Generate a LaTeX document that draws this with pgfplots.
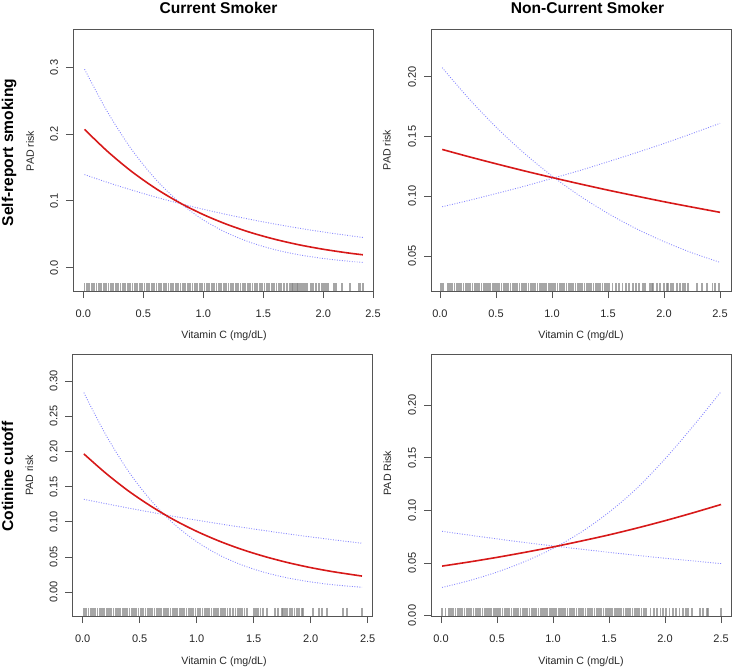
\documentclass[border=0pt]{standalone}
\usepackage{fontspec}
\setmainfont{Liberation Sans}
\usepackage{pgfplots}
\usepackage{pgfplotstable}
\pgfplotsset{compat=1.18}
\definecolor{rred}{RGB}{215,25,25}
\definecolor{rblue}{RGB}{135,135,255}
\definecolor{rframe}{RGB}{85,85,85}

% Panel curves: x, fitted risk, CI bound A, CI bound B
\pgfplotstableread{
x fit ca cb
0.01 0.2072 0.2974 0.1394
0.2 0.1744 0.2338 0.1277
0.4 0.1444 0.1777 0.1164
0.6 0.1189 0.1329 0.1058
0.8 0.0974 0.0979 0.0962
1.0 0.0794 0.0714 0.0874
1.2 0.0645 0.0517 0.0793
1.4 0.0522 0.0372 0.0719
1.6 0.0422 0.0266 0.0651
1.8 0.0340 0.0190 0.0589
2.0 0.0274 0.0136 0.0533
2.2 0.0220 0.0096 0.0482
2.33 0.0191 0.0077 0.0451
}\curvesA
\pgfplotstableread{
x fit ca cb
0.02 0.1392 0.2077 0.0912
0.25 0.1333 0.1826 0.0963
0.5 0.1272 0.1580 0.1022
0.75 0.1213 0.1362 0.1083
1.0 0.1157 0.1170 0.1149
1.25 0.1103 0.1002 0.1216
1.5 0.1051 0.0856 0.1289
1.75 0.1002 0.0729 0.1364
2.0 0.0954 0.0620 0.1442
2.25 0.0909 0.0526 0.1525
2.5 0.0865 0.0446 0.1611
}\curvesB
\pgfplotstableread{
x fit ca cb
0.01 0.1965 0.2834 0.1320
0.2 0.1694 0.2243 0.1259
0.4 0.1440 0.1721 0.1196
0.6 0.1221 0.1301 0.1136
0.8 0.1029 0.0971 0.1078
1.0 0.0865 0.0718 0.1024
1.2 0.0725 0.0527 0.0972
1.4 0.0606 0.0385 0.0922
1.6 0.0506 0.0280 0.0875
1.8 0.0421 0.0203 0.0829
2.0 0.0350 0.0147 0.0786
2.2 0.0291 0.0106 0.0745
2.45 0.0230 0.0071 0.0696
}\curvesC
\pgfplotstableread{
x fit ca cb
0.01 0.0470 0.0267 0.0801
0.25 0.0509 0.0331 0.0765
0.5 0.0553 0.0413 0.0729
0.75 0.0601 0.0514 0.0694
1.0 0.0652 0.0638 0.0662
1.25 0.0708 0.0792 0.0631
1.5 0.0767 0.0982 0.0601
1.75 0.0832 0.1212 0.0572
2.0 0.0902 0.1490 0.0545
2.25 0.0977 0.1800 0.0519
2.5 0.1056 0.2130 0.0494
}\curvesD

% Rug (observed vitamin C values)
\pgfplotstableread[row sep=\\]{x\\ 0.01\\ 0.03\\ 0.05\\ 0.07\\ 0.09\\ 0.11\\ 0.13\\ 0.15\\ 0.17\\ 0.19\\ 0.21\\ 0.23\\ 0.25\\ 0.27\\ 0.29\\ 0.31\\ 0.33\\ 0.35\\ 0.37\\ 0.39\\ 0.41\\ 0.43\\ 0.45\\ 0.47\\ 0.49\\ 0.51\\ 0.53\\ 0.55\\ 0.57\\ 0.59\\ 0.61\\ 0.63\\ 0.65\\ 0.67\\ 0.69\\ 0.71\\ 0.73\\ 0.75\\ 0.77\\ 0.79\\ 0.81\\ 0.83\\ 0.85\\ 0.87\\ 0.89\\ 0.91\\ 0.93\\ 0.95\\ 0.97\\ 0.99\\ 1.01\\ 1.03\\ 1.05\\ 1.07\\ 1.09\\ 1.11\\ 1.13\\ 1.15\\ 1.17\\ 1.19\\ 1.21\\ 1.23\\ 1.25\\ 1.27\\ 1.29\\ 1.31\\ 1.33\\ 1.35\\ 1.37\\ 1.39\\ 1.41\\ 1.43\\ 1.45\\ 1.47\\ 1.49\\ 1.51\\ 1.53\\ 1.55\\ 1.57\\ 1.59\\ 1.61\\ 1.63\\ 1.65\\ 1.672\\ 1.695\\ 1.72\\ 1.736\\ 1.75\\ 1.764\\ 1.78\\ 1.792\\ 1.806\\ 1.82\\ 1.834\\ 1.848\\ 1.861\\ 1.894\\ 1.917\\ 1.939\\ 1.961\\ 1.986\\ 2.006\\ 2.022\\ 2.042\\ 2.084\\ 2.097\\ 2.11\\ 2.153\\ 2.222\\ 2.297\\ 2.31\\ 2.33\\}\rugA
\pgfplotstableread[row sep=\\]{x\\ 0.009\\ 0.03\\ 0.07\\ 0.09\\ 0.11\\ 0.13\\ 0.15\\ 0.17\\ 0.19\\ 0.21\\ 0.23\\ 0.25\\ 0.27\\ 0.29\\ 0.31\\ 0.33\\ 0.35\\ 0.37\\ 0.39\\ 0.41\\ 0.43\\ 0.45\\ 0.47\\ 0.49\\ 0.51\\ 0.53\\ 0.55\\ 0.57\\ 0.59\\ 0.61\\ 0.63\\ 0.65\\ 0.67\\ 0.69\\ 0.71\\ 0.73\\ 0.75\\ 0.77\\ 0.79\\ 0.81\\ 0.83\\ 0.85\\ 0.87\\ 0.89\\ 0.91\\ 0.93\\ 0.95\\ 0.97\\ 0.99\\ 1.01\\ 1.03\\ 1.05\\ 1.07\\ 1.09\\ 1.11\\ 1.13\\ 1.15\\ 1.17\\ 1.19\\ 1.21\\ 1.23\\ 1.25\\ 1.27\\ 1.29\\ 1.31\\ 1.33\\ 1.35\\ 1.37\\ 1.39\\ 1.41\\ 1.43\\ 1.45\\ 1.47\\ 1.49\\ 1.51\\ 1.54\\ 1.57\\ 1.60\\ 1.63\\ 1.66\\ 1.69\\ 1.72\\ 1.75\\ 1.78\\ 1.81\\ 1.83\\ 1.875\\ 1.89\\ 1.905\\ 1.94\\ 1.964\\ 2.003\\ 2.024\\ 2.039\\ 2.06\\ 2.083\\ 2.113\\ 2.143\\ 2.173\\ 2.188\\ 2.217\\ 2.292\\ 2.336\\ 2.381\\ 2.432\\ 2.455\\ 2.491\\}\rugB
\pgfplotstableread[row sep=\\]{x\\ 0.01\\ 0.03\\ 0.05\\ 0.07\\ 0.09\\ 0.11\\ 0.13\\ 0.15\\ 0.17\\ 0.19\\ 0.21\\ 0.23\\ 0.25\\ 0.27\\ 0.29\\ 0.31\\ 0.33\\ 0.35\\ 0.37\\ 0.39\\ 0.41\\ 0.43\\ 0.45\\ 0.47\\ 0.49\\ 0.51\\ 0.53\\ 0.55\\ 0.57\\ 0.59\\ 0.61\\ 0.63\\ 0.65\\ 0.67\\ 0.69\\ 0.71\\ 0.73\\ 0.75\\ 0.77\\ 0.79\\ 0.81\\ 0.83\\ 0.85\\ 0.87\\ 0.89\\ 0.91\\ 0.93\\ 0.95\\ 0.97\\ 0.99\\ 1.01\\ 1.03\\ 1.05\\ 1.07\\ 1.09\\ 1.11\\ 1.13\\ 1.15\\ 1.17\\ 1.19\\ 1.21\\ 1.23\\ 1.25\\ 1.27\\ 1.29\\ 1.32\\ 1.34\\ 1.36\\ 1.38\\ 1.40\\ 1.42\\ 1.44\\ 1.50\\ 1.52\\ 1.54\\ 1.56\\ 1.58\\ 1.614\\ 1.687\\ 1.716\\ 1.745\\ 1.76\\ 1.774\\ 1.795\\ 1.818\\ 1.839\\ 1.857\\ 1.877\\ 1.897\\ 1.921\\ 1.935\\ 2.023\\ 2.075\\ 2.096\\ 2.146\\ 2.286\\ 2.316\\ 2.447\\}\rugC
\pgfplotstableread[row sep=\\]{x\\ 0.01\\ 0.04\\ 0.07\\ 0.09\\ 0.11\\ 0.13\\ 0.15\\ 0.17\\ 0.19\\ 0.21\\ 0.23\\ 0.25\\ 0.27\\ 0.29\\ 0.31\\ 0.33\\ 0.35\\ 0.37\\ 0.39\\ 0.41\\ 0.43\\ 0.45\\ 0.47\\ 0.49\\ 0.51\\ 0.53\\ 0.55\\ 0.57\\ 0.59\\ 0.61\\ 0.63\\ 0.65\\ 0.67\\ 0.69\\ 0.71\\ 0.73\\ 0.75\\ 0.77\\ 0.79\\ 0.81\\ 0.83\\ 0.85\\ 0.87\\ 0.89\\ 0.91\\ 0.93\\ 0.95\\ 0.97\\ 0.99\\ 1.01\\ 1.03\\ 1.05\\ 1.07\\ 1.09\\ 1.11\\ 1.13\\ 1.15\\ 1.17\\ 1.19\\ 1.21\\ 1.23\\ 1.25\\ 1.27\\ 1.29\\ 1.31\\ 1.33\\ 1.35\\ 1.37\\ 1.39\\ 1.41\\ 1.43\\ 1.45\\ 1.47\\ 1.49\\ 1.51\\ 1.53\\ 1.55\\ 1.57\\ 1.59\\ 1.61\\ 1.63\\ 1.65\\ 1.67\\ 1.69\\ 1.71\\ 1.73\\ 1.75\\ 1.77\\ 1.79\\ 1.81\\ 1.83\\ 1.87\\ 1.90\\ 1.93\\ 1.96\\ 1.98\\ 2.01\\ 2.04\\ 2.07\\ 2.10\\ 2.13\\ 2.16\\ 2.19\\ 2.208\\ 2.238\\ 2.312\\ 2.342\\ 2.372\\ 2.387\\ 2.497\\}\rugD

\pgfplotsset{
  rpanel/.style={
    scale only axis, width=300bp, height=262bp, anchor=north west,
    axis line style={rframe, line width=0.8bp},
    tick style={rframe, line width=0.8bp},
    tick align=outside, major tick length=7bp,
    xtick pos=bottom, ytick pos=left,
    ticklabel style={font=\fontsize{11bp}{13bp}\selectfont, text=black!85},
    yticklabel style={rotate=90, anchor=south},
    xticklabel shift=8.5bp, yticklabel shift=4.5bp,
    clip mode=individual,
  },
  rugmk/.style={only marks, mark=|, mark size=4bp, mark options={draw=black!50, line width=1.8bp, opacity=0.7}},
  fitln/.style={rred, line width=1.6bp, smooth, no markers},
  ciln/.style={rblue, line width=0.9bp, dash pattern=on 0.9bp off 1.6bp, smooth, no markers},
}

\begin{document}
\begin{tikzpicture}
\path[use as bounding box] (0,0) rectangle (733bp,-668bp);

% Panel 1
\begin{axis}[rpanel, at={(73bp,-29bp)},
  xmin=-0.086, xmax=2.414, ymin=-0.0352, ymax=0.3577,
  xtick={0,0.5,1,1.5,2,2.414}, xticklabels={0.0,0.5,1.0,1.5,2.0,2.5},
  ytick={0,0.1,0.2,0.3}, yticklabels={0.0,0.1,0.2,0.3}]
\addplot[rugmk] table[x index=0, y index=0, y expr=-0.0292] {\rugA};
\addplot[ciln] table[x=x, y=ca] {\curvesA};
\addplot[ciln] table[x=x, y=cb] {\curvesA};
\addplot[fitln] table[x=x, y=fit] {\curvesA};
\end{axis}

% Panel 2
\begin{axis}[rpanel, at={(431bp,-29bp)},
  xmin=-0.080, xmax=2.598, ymin=0.0206, ymax=0.2401,
  xtick={0,0.5,1,1.5,2,2.5}, xticklabels={0.0,0.5,1.0,1.5,2.0,2.5},
  ytick={0.05,0.1,0.15,0.2}, yticklabels={0.05,0.10,0.15,0.20}]
\addplot[rugmk] table[x index=0, y index=0, y expr=0.0240] {\rugB};
\addplot[ciln] table[x=x, y=ca] {\curvesB};
\addplot[ciln] table[x=x, y=cb] {\curvesB};
\addplot[fitln] table[x=x, y=fit] {\curvesB};
\end{axis}

% Panel 3
\begin{axis}[rpanel, at={(72.5bp,-354bp)},
  xmin=-0.0895, xmax=2.542, ymin=-0.0337, ymax=0.3383,
  xtick={0,0.5,1,1.5,2,2.5}, xticklabels={0.0,0.5,1.0,1.5,2.0,2.5},
  ytick={0,0.05,0.1,0.15,0.2,0.25,0.3}, yticklabels={0.00,0.05,0.10,0.15,0.20,0.25,0.30}]
\addplot[rugmk] table[x index=0, y index=0, y expr=-0.0280] {\rugC};
\addplot[ciln] table[x=x, y=ca] {\curvesC};
\addplot[ciln] table[x=x, y=cb] {\curvesC};
\addplot[fitln] table[x=x, y=fit] {\curvesC};
\end{axis}

% Panel 4
\begin{axis}[rpanel, at={(431bp,-354bp)},
  xmin=-0.089, xmax=2.589, ymin=-0.0005, ymax=0.2488,
  xtick={0,0.5,1,1.5,2,2.5}, xticklabels={0.0,0.5,1.0,1.5,2.0,2.5},
  ytick={0,0.05,0.1,0.15,0.2}, yticklabels={0.00,0.05,0.10,0.15,0.20}]
\addplot[rugmk] table[x index=0, y index=0, y expr=0.0033] {\rugD};
\addplot[ciln] table[x=x, y=ca] {\curvesD};
\addplot[ciln] table[x=x, y=cb] {\curvesD};
\addplot[fitln] table[x=x, y=fit] {\curvesD};
\end{axis}

% Titles and labels
\tikzset{ttl/.style={font=\fontsize{15.6bp}{18bp}\selectfont\bfseries, anchor=base, inner sep=0pt},
         lbl/.style={font=\fontsize{10.6bp}{12bp}\selectfont, text=black!85, anchor=base, inner sep=0pt}}
\node[ttl] at (218.5bp,-13.3bp) {Current Smoker};
\node[ttl] at (587.5bp,-13.3bp) {Non-Current Smoker};
\node[ttl, rotate=90] at (13bp,-152.5bp) {Self-report smoking};
\node[ttl, rotate=90] at (13bp,-476.7bp) {Cotinine cutoff};
\node[lbl, rotate=90] at (33.8bp,-151bp) {PAD risk};
\node[lbl, rotate=90] at (390.7bp,-150bp) {PAD risk};
\node[lbl, rotate=90] at (33bp,-475.5bp) {PAD risk};
\node[lbl, rotate=90] at (391bp,-473bp) {PAD Risk};
\node[lbl] at (224bp,-338.5bp) {Vitamin C (mg/dL)};
\node[lbl] at (581bp,-338.5bp) {Vitamin C (mg/dL)};
\node[lbl] at (224bp,-664.5bp) {Vitamin C (mg/dL)};
\node[lbl] at (581bp,-664.5bp) {Vitamin C (mg/dL)};
\end{tikzpicture}
\end{document}
